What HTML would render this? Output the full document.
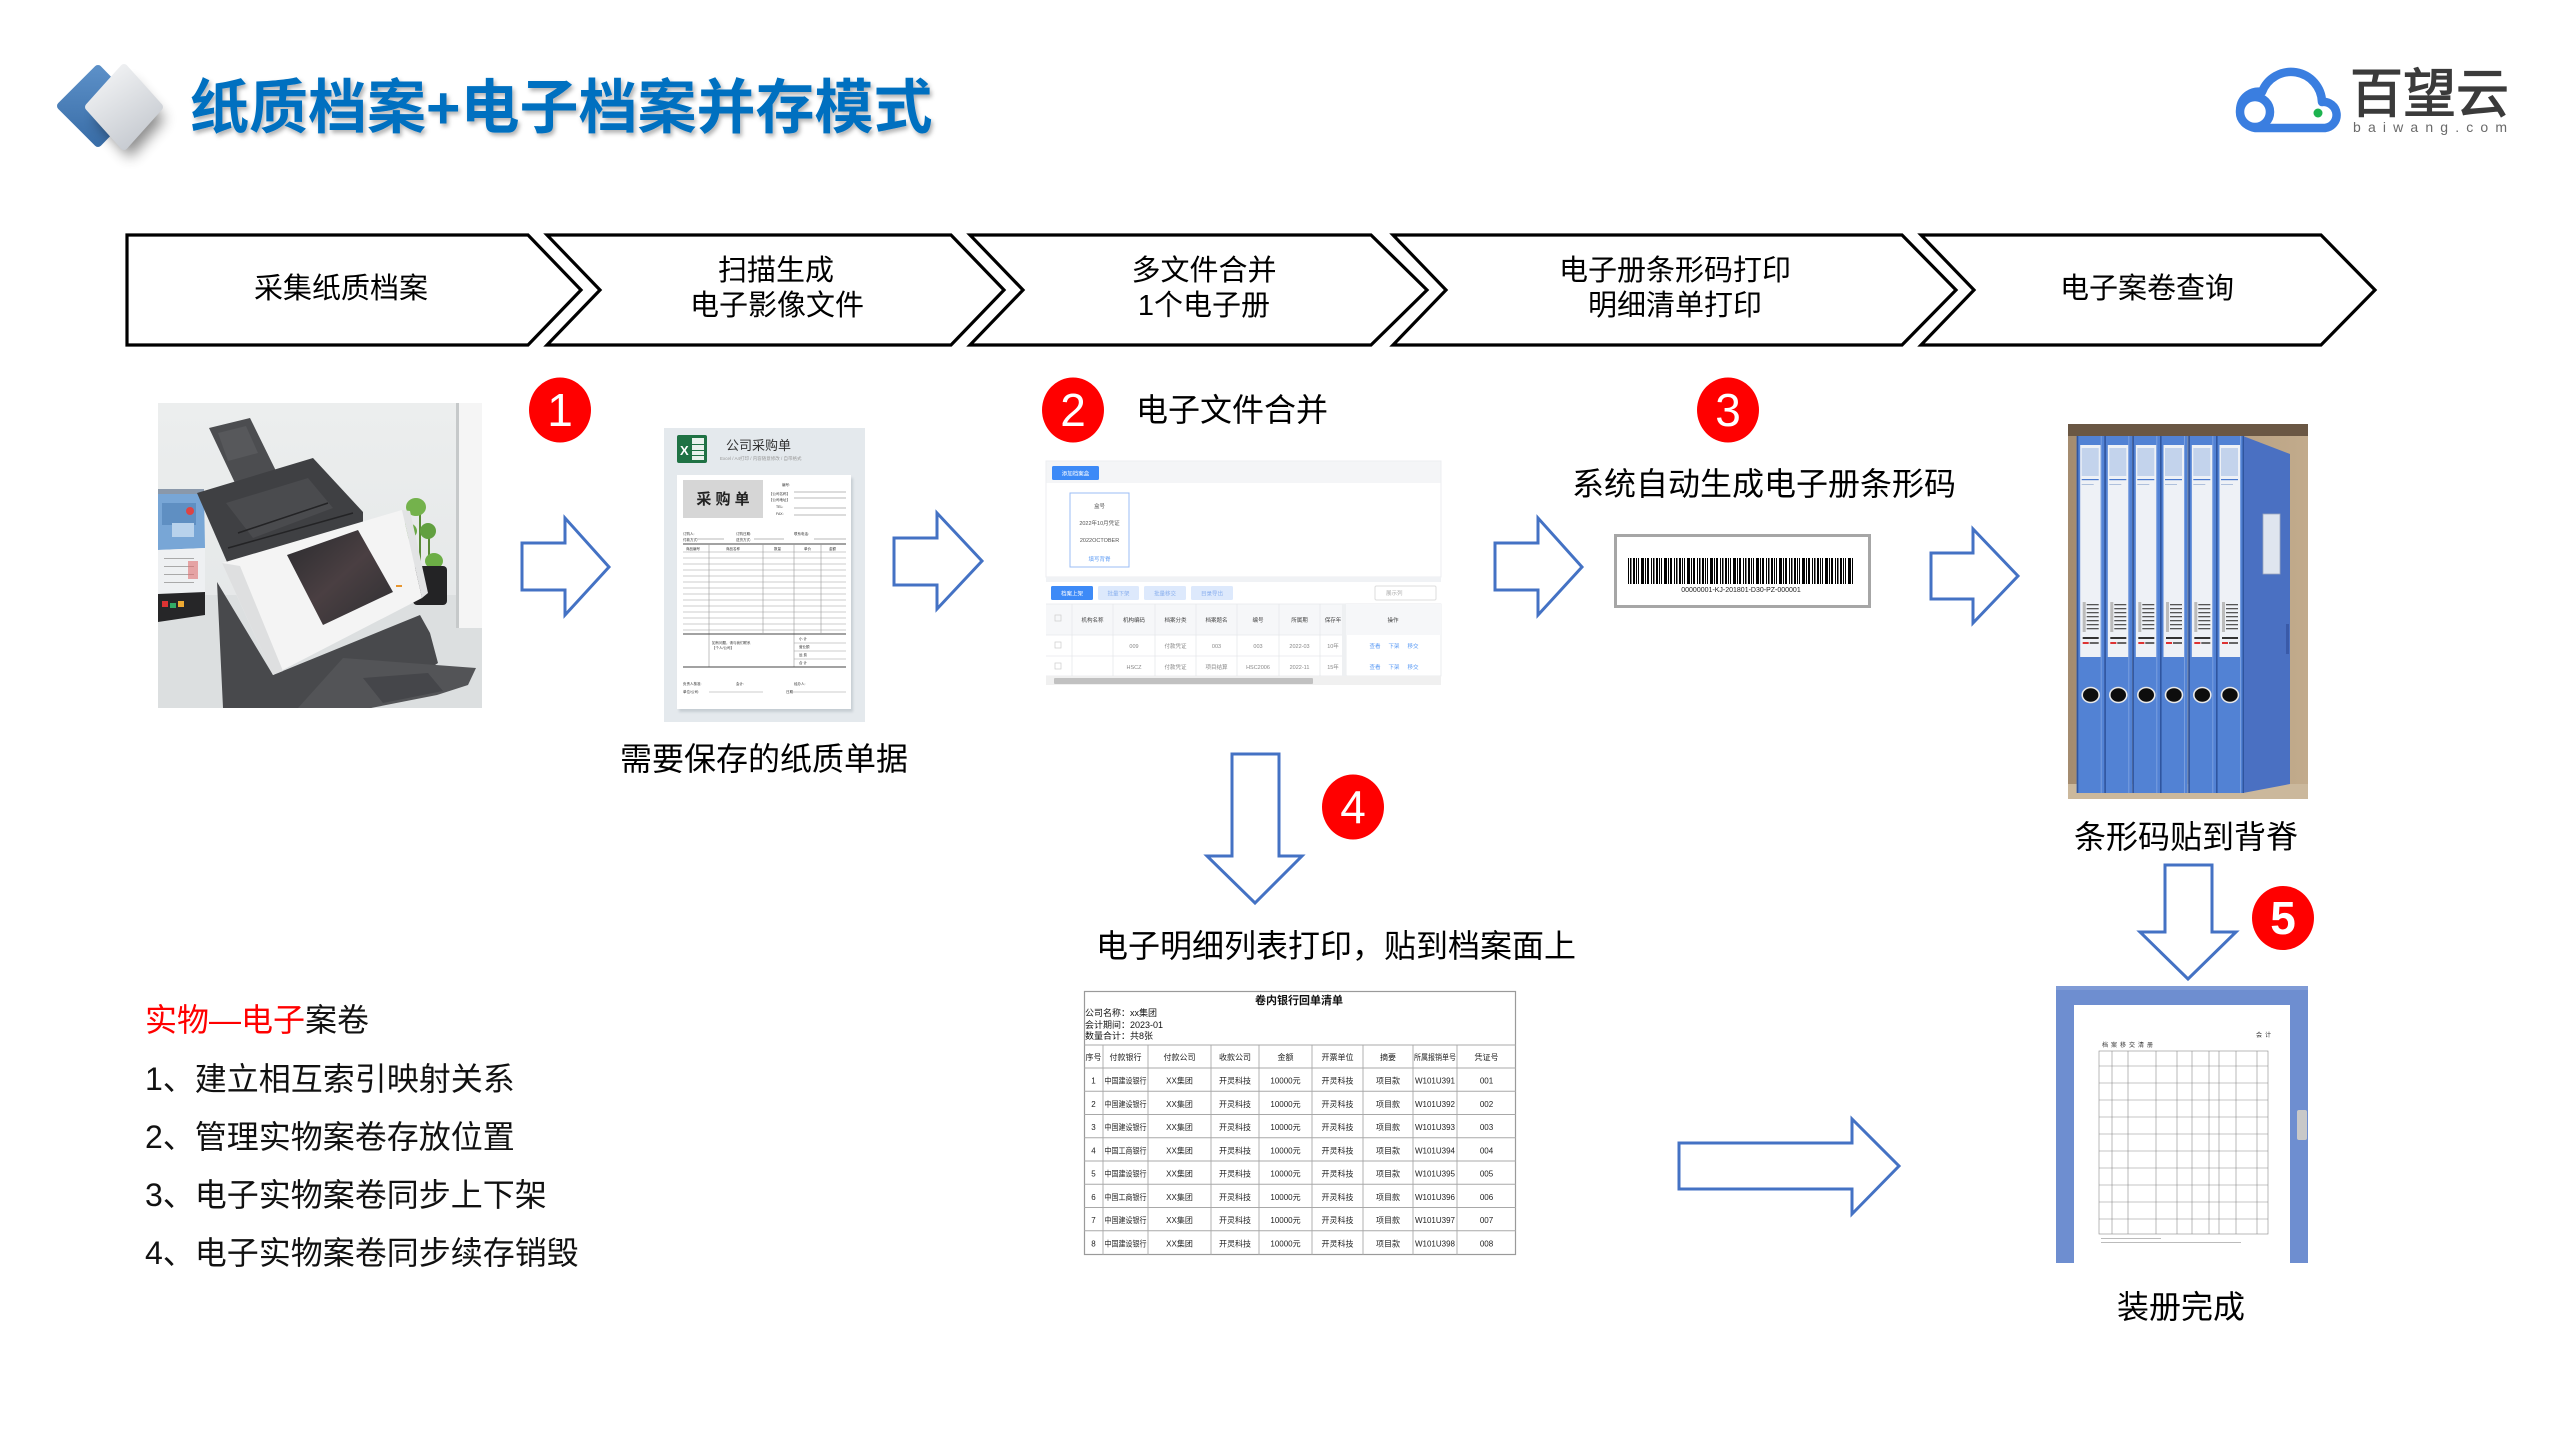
<!DOCTYPE html>
<html><head><meta charset="utf-8"><style>html,body{margin:0;padding:0;background:#fff;width:2560px;height:1440px;overflow:hidden}svg{display:block}</style></head>
<body>
<svg width="2560" height="1440" viewBox="0 0 2560 1440" xmlns="http://www.w3.org/2000/svg" font-family="'Liberation Sans','Noto Sans CJK SC',sans-serif">
<defs>
 <filter id="tsh" x="-5%" y="-30%" width="110%" height="170%"><feDropShadow dx="2" dy="3" stdDeviation="2" flood-color="#000" flood-opacity="0.3"/></filter>
 <filter id="blur8" x="-50%" y="-50%" width="200%" height="200%"><feGaussianBlur stdDeviation="7"/></filter>
 <filter id="blur1"><feGaussianBlur stdDeviation="1.2"/></filter>
 <linearGradient id="gBlue" x1="0" y1="0" x2="0" y2="1"><stop offset="0" stop-color="#5b8fc7"/><stop offset="1" stop-color="#3a6ea8"/></linearGradient>
 <linearGradient id="gGray" x1="0" y1="0" x2="0.6" y2="1"><stop offset="0" stop-color="#f6f7f8"/><stop offset="1" stop-color="#c8ccd2"/></linearGradient>
 <linearGradient id="scanbg" x1="0" y1="0" x2="0" y2="1"><stop offset="0" stop-color="#eceeee"/><stop offset="1" stop-color="#e2e5e6"/></linearGradient>
 <linearGradient id="screen" x1="0" y1="0" x2="1" y2="1"><stop offset="0" stop-color="#2a2b2e"/><stop offset="0.5" stop-color="#4a3f42"/><stop offset="1" stop-color="#2e2f32"/></linearGradient>
 <linearGradient id="wood" x1="0" y1="0" x2="1" y2="0"><stop offset="0" stop-color="#a48c70"/><stop offset="1" stop-color="#c2ab8c"/></linearGradient>
 <pattern id="bc" width="23" height="26" patternUnits="userSpaceOnUse">
  <rect x="0" y="0" width="2" height="26" fill="#000"/><rect x="3" y="0" width="1" height="26" fill="#000"/>
  <rect x="5" y="0" width="1" height="26" fill="#000"/><rect x="8" y="0" width="3" height="26" fill="#000"/>
  <rect x="12" y="0" width="1" height="26" fill="#000"/><rect x="14" y="0" width="2" height="26" fill="#000"/>
  <rect x="18" y="0" width="1" height="26" fill="#000"/><rect x="20" y="0" width="1.5" height="26" fill="#000"/>
 </pattern>
 <pattern id="sl" width="12" height="4" patternUnits="userSpaceOnUse"><rect x="0" y="0" width="12" height="1.3" fill="#555"/></pattern>
 <g id="spine">
  <rect x="0" y="12" width="27.7" height="357" fill="#5282d4"/>
  <rect x="3.5" y="21" width="20.5" height="212" fill="#eef1f6"/>
  <rect x="5" y="24" width="17" height="28" fill="#c3d3ec"/>
  <rect x="5" y="55" width="17" height="1.2" fill="#4a7ad0"/>
  <rect x="5" y="60" width="12" height="0.8" fill="#9fb3d6"/>
  <rect x="6" y="178" width="3" height="30" fill="#bbb"/>
  <rect x="10" y="180" width="12" height="26" fill="url(#sl)"/>
  <rect x="6" y="213" width="16" height="2" fill="#333"/>
  <rect x="6" y="218" width="6" height="2" fill="#d33"/>
  <rect x="13" y="218" width="9" height="2" fill="#666"/>
  <ellipse cx="14" cy="271" rx="8.5" ry="7.5" fill="#0d0d0d" stroke="#e8e8e8" stroke-width="1.6"/>
  <rect x="0" y="12" width="1.6" height="357" fill="#2f559f"/>
  <rect x="24" y="12" width="1" height="357" fill="#7aa0e0"/>
 </g>
</defs>

<!-- ===== Header logo diamonds ===== -->
<polygon points="98,69 134,106 98,143 61,106" fill="url(#gBlue)" stroke="url(#gBlue)" stroke-width="8" stroke-linejoin="round"/>
<polygon points="130,80 165,119 130,158 95,119" fill="#000" opacity="0.45" filter="url(#blur8)"/>
<polygon points="124,68 159,107 124,146 89,107" fill="url(#gGray)" stroke="url(#gGray)" stroke-width="8" stroke-linejoin="round"/>

<!-- Title -->
<text x="190" y="128" font-size="59" font-weight="bold" fill="#0070c0" filter="url(#tsh)">纸质档案+电子档案并存模式</text>

<!-- Baiwang logo -->
<path d="M2255,128 H2325 A13,13 0 0 0 2322,102 A31,31 0 0 0 2262,92 A17,17 0 0 0 2255,128 Z" fill="#fff" stroke="#3a7ee0" stroke-width="8.5" stroke-linejoin="round"/>
<circle cx="2255" cy="112" r="15" fill="#fff" stroke="#3a7ee0" stroke-width="8.5"/>
<circle cx="2318" cy="113" r="4.5" fill="#1db34f"/>
<text x="2350" y="112" font-size="53" fill="#3b3b3b" stroke="#3b3b3b" stroke-width="1.2">百望云</text>
<text x="2353" y="132" font-size="14" fill="#6a6a6a" textLength="154" lengthAdjust="spacing">baiwang.com</text>

<!-- ===== Chevrons ===== -->
<g fill="#fff" stroke="#000" stroke-width="3.2" stroke-linejoin="miter">
 <polygon points="127,235 528,235 581,290 528,345 127,345"/>
 <polygon points="547,235 951,235 1004,290 951,345 547,345 600,290"/>
 <polygon points="970,235 1371,235 1427,290 1371,345 970,345 1023,290"/>
 <polygon points="1393,235 1902,235 1956,290 1902,345 1393,345 1446,290"/>
 <polygon points="1921,235 2321,235 2375,290 2321,345 1921,345 1974,290"/>
</g>
<g font-size="29" fill="#000" text-anchor="middle">
 <text x="341" y="298">采集纸质档案</text>
 <text x="776" y="280">扫描生成</text>
 <text x="777" y="315">电子影像文件</text>
 <text x="1204" y="280">多文件合并</text>
 <text x="1204" y="315">1个电子册</text>
 <text x="1675" y="280">电子册条形码打印</text>
 <text x="1675" y="315">明细清单打印</text>
 <text x="2147" y="298">电子案卷查询</text>
</g>

<!-- ===== Scanner photo ===== -->
<g transform="translate(158,403)">
 <rect width="324" height="305" fill="url(#scanbg)"/>
 <rect x="0" y="192" width="324" height="113" fill="#dcdfe0"/>
 <rect x="300" y="0" width="24" height="225" fill="#f5f5f5"/>
 <rect x="298" y="0" width="3" height="225" fill="#c6c9ca"/>
 <!-- calendar -->
 <rect x="0" y="86" width="46" height="5" fill="#8a98aa"/>
 <polygon points="0,91 46,91 47,145 0,147" fill="#78a6d6"/>
 <rect x="4" y="100" width="34" height="22" fill="#5f8fc2"/>
 <rect x="14" y="120" width="22" height="14" fill="#b8d2ec"/>
 <circle cx="32" cy="108" r="4" fill="#d44"/>
 <polygon points="0,147 47,145 47,189 0,191" fill="#eef0f2"/>
 <g fill="#a9a9a9"><rect x="6" y="155" width="30" height="1"/><rect x="6" y="163" width="30" height="1"/><rect x="6" y="171" width="30" height="1"/><rect x="6" y="179" width="30" height="1"/></g>
 <rect x="30" y="158" width="10" height="18" fill="#e07070" opacity=".6"/>
 <polygon points="0,191 47,189 47,212 0,219" fill="#262628"/>
 <rect x="4" y="198" width="6" height="6" fill="#d33"/><rect x="12" y="200" width="6" height="5" fill="#3a6"/><rect x="20" y="198" width="6" height="6" fill="#ea3"/>
 <!-- plant -->
 <rect x="261" y="110" width="2" height="55" fill="#5a8a36"/>
 <rect x="270" y="125" width="2" height="40" fill="#5a8a36"/>
 <ellipse cx="258" cy="104" rx="10" ry="9" fill="#74b24c"/>
 <ellipse cx="250" cy="128" rx="9" ry="8" fill="#6aa845"/>
 <ellipse cx="270" cy="128" rx="8" ry="8" fill="#62a040"/>
 <ellipse cx="276" cy="158" rx="9" ry="8" fill="#6cae46"/>
 <rect x="255" y="163" width="34" height="39" rx="4" fill="#232325"/>
 <!-- lower body -->
 <polygon points="59,179 115,272 262,212 272,230 280,260 213,305 65,305" fill="#48494c"/>
 <!-- input tray extension -->
 <polygon points="51,25 92,15 119,70 77,80" fill="#4c4d50"/>
 <polygon points="60,30 88,23 100,50 70,58" fill="#57585b"/>
 <!-- main tray -->
 <polygon points="39,90 155,55 205,109 205,119 92,159 69,159" fill="#3f4043"/>
 <polygon points="68,100 150,75 175,105 95,135" fill="#4a4b4e"/>
 <line x1="80" y1="130" x2="170" y2="100" stroke="#232325" stroke-width="1.5"/>
 <line x1="70" y1="145" x2="195" y2="110" stroke="#232325" stroke-width="1.5"/>
 <!-- white unit -->
 <polygon points="64,160 244,107 264,195 115,272" fill="#f4f4f4"/>
 <polygon points="64,160 82,163 125,268 115,272" fill="#dedfe0"/>
 <polygon points="244,107 252,108 270,190 264,195" fill="#e2e3e4"/>
 <polygon points="129,152 200,127 235,189 165,222" fill="url(#screen)"/>
 <rect x="238" y="182" width="6" height="2" fill="#e8962f"/>
 <!-- output tray -->
 <polygon points="185,255 318,265 310,282 279,292 213,305 140,305" fill="#535457"/>
 <polygon points="205,275 270,270 285,288 225,300" fill="#45464a"/>
</g>

<!-- ===== Purchase form ===== -->
<g transform="translate(664,428)">
 <rect width="201" height="294" fill="#e4e9ed"/>
 <rect x="13" y="7" width="30" height="28" rx="2" fill="#1f7244"/>
 <rect x="28" y="10" width="12" height="22" fill="#e8f2ec"/>
 <rect x="28" y="16" width="12" height="1" fill="#1f7244"/><rect x="28" y="22" width="12" height="1" fill="#1f7244"/><rect x="28" y="27" width="12" height="1" fill="#1f7244"/>
 <text x="16" y="27" font-size="13" fill="#fff" font-weight="bold">X</text>
 <text x="62" y="22" font-size="13" fill="#333">公司采购单</text>
 <text x="56" y="32" font-size="4.5" fill="#999">Excel / A4打印 / 内容随意修改 / 自带格式</text>
 <rect x="15" y="50" width="174" height="234" fill="#c6cdd3" filter="url(#blur1)"/>
 <rect x="13" y="47" width="174" height="234" fill="#fff"/>
 <rect x="19" y="52" width="80" height="38" fill="#d6d6d6"/>
 <text x="59" y="76" font-size="15" font-weight="bold" text-anchor="middle" fill="#222">采 购 单</text>
 <g stroke="#777" stroke-width="0.6">
  <line x1="130" y1="64" x2="182" y2="64"/><line x1="130" y1="70" x2="182" y2="70"/>
  <line x1="130" y1="80" x2="182" y2="80"/><line x1="130" y1="87" x2="182" y2="87"/>
  <line x1="33" y1="111" x2="60" y2="111"/><line x1="90" y1="111" x2="120" y2="111"/><line x1="150" y1="111" x2="182" y2="111"/>
 </g>
 <g font-size="3.5" fill="#333"><text x="118" y="58">编号:</text><text x="105" y="67">【公司名称】</text><text x="105" y="73">【公司地址】</text><text x="112" y="80">TEL:</text><text x="112" y="87">FAX:</text>
 <text x="19" y="107">订购人:</text><text x="72" y="107">订购日期:</text><text x="130" y="107">联系电话:</text><text x="19" y="113">付款方式:</text><text x="72" y="113">送货方式:</text></g>
 <line x1="19" y1="116" x2="182" y2="116" stroke="#444" stroke-width="1"/>
 <g font-size="3.5" fill="#333"><text x="22" y="122">商品编号</text><text x="62" y="122">商品名称</text><text x="110" y="122">数量</text><text x="140" y="122">单价</text><text x="165" y="122">金额</text></g>
 <g stroke="#999" stroke-width="0.6">
  <line x1="19" y1="124" x2="182" y2="124"/><line x1="19" y1="130" x2="182" y2="130"/><line x1="19" y1="136" x2="182" y2="136"/><line x1="19" y1="142" x2="182" y2="142"/><line x1="19" y1="148" x2="182" y2="148"/><line x1="19" y1="154" x2="182" y2="154"/><line x1="19" y1="160" x2="182" y2="160"/><line x1="19" y1="166" x2="182" y2="166"/><line x1="19" y1="172" x2="182" y2="172"/><line x1="19" y1="178" x2="182" y2="178"/><line x1="19" y1="184" x2="182" y2="184"/><line x1="19" y1="190" x2="182" y2="190"/><line x1="19" y1="196" x2="182" y2="196"/><line x1="19" y1="202" x2="182" y2="202"/>
  <line x1="45" y1="116" x2="45" y2="239"/><line x1="99" y1="116" x2="99" y2="205"/><line x1="130" y1="116" x2="130" y2="239"/><line x1="157" y1="116" x2="157" y2="205"/>
  <line x1="130" y1="215" x2="182" y2="215"/><line x1="130" y1="223" x2="182" y2="223"/><line x1="130" y1="231" x2="182" y2="231"/>
  <line x1="45" y1="264" x2="99" y2="264"/><line x1="130" y1="264" x2="182" y2="264"/>
 </g>
 <line x1="19" y1="206" x2="182" y2="206" stroke="#444" stroke-width="1"/>
 <line x1="19" y1="239" x2="182" y2="239" stroke="#444" stroke-width="1"/>
 <g font-size="3.5" fill="#333"><text x="48" y="216">如有问题，请与我们联系</text><text x="48" y="221">【个人/公司】</text><text x="135" y="212">小 计</text><text x="135" y="220">营业额</text><text x="135" y="228">运 费</text><text x="135" y="236">合 计</text>
 <text x="19" y="257">负责人核准:</text><text x="72" y="257">会计:</text><text x="130" y="257">经办人:</text><text x="19" y="265">单位/公司:</text><text x="122" y="265">日期:</text></g>
</g>

<!-- ===== Software screenshot ===== -->
<g transform="translate(1046,461)">
 <rect width="395" height="228" fill="#fff"/>
 <rect width="395" height="22" fill="#f4f5f7"/>
 <rect x="0" y="0" width="395" height="116" fill="none" stroke="#eceef1"/>
 <rect x="6" y="5" width="47" height="14" rx="1.5" fill="#3d8af7"/>
 <text x="29.5" y="14.5" font-size="5.5" fill="#fff" text-anchor="middle">添加档案盒</text>
 <rect x="24" y="32" width="59" height="74" fill="#fff" stroke="#9bbdf5" stroke-width="1"/>
 <g font-size="5.5" fill="#555" text-anchor="middle"><text x="53.5" y="47">盒号</text><text x="53.5" y="64">2022年10月凭证</text><text x="53.5" y="81">2022OCTOBER</text><text x="53.5" y="100" fill="#5a9af5">填写背脊</text></g>
 <rect x="0" y="116" width="395" height="5" fill="#f0f2f5"/>
 <rect x="5" y="125" width="42" height="14" rx="1.5" fill="#3d8af7"/>
 <rect x="52" y="125" width="41" height="14" rx="1.5" fill="#dde9fc"/>
 <rect x="98" y="125" width="42" height="14" rx="1.5" fill="#dde9fc"/>
 <rect x="145" y="125" width="42" height="14" rx="1.5" fill="#dde9fc"/>
 <rect x="329" y="125" width="61" height="14" rx="1.5" fill="#fff" stroke="#ddd"/>
 <g font-size="5.5" text-anchor="middle"><text x="26" y="134.5" fill="#fff">档案上架</text><text x="72.5" y="134.5" fill="#8ab0ee">批量下架</text><text x="119" y="134.5" fill="#8ab0ee">批量移交</text><text x="166" y="134.5" fill="#8ab0ee">目录导出</text><text x="340" y="134" fill="#aaa" text-anchor="start">展示列</text></g>
 <rect x="0" y="143" width="395" height="31" fill="#f6f7f9"/>
 <g stroke="#e6e8eb" stroke-width="0.8">
  <line x1="0" y1="143" x2="395" y2="143"/><line x1="0" y1="174" x2="395" y2="174"/><line x1="0" y1="195" x2="395" y2="195"/><line x1="0" y1="215" x2="395" y2="215"/>
  <line x1="26" y1="143" x2="26" y2="215"/><line x1="67" y1="143" x2="67" y2="215"/><line x1="109" y1="143" x2="109" y2="215"/><line x1="150" y1="143" x2="150" y2="215"/><line x1="191" y1="143" x2="191" y2="215"/><line x1="233" y1="143" x2="233" y2="215"/><line x1="274" y1="143" x2="274" y2="215"/>
 </g>
 <rect x="300" y="143" width="95" height="72" fill="#fff" stroke="#e6e8eb" stroke-width="0.8"/>
 <rect x="296" y="143" width="4" height="72" fill="#eef0f2"/>
 <rect x="300" y="143" width="95" height="31" fill="#f6f7f9"/>
 <g fill="none" stroke="#ccc" stroke-width="0.7"><rect x="9" y="154" width="6" height="6"/><rect x="9" y="181" width="6" height="6"/><rect x="9" y="202" width="6" height="6"/></g>
 <g font-size="5.5" fill="#444" text-anchor="middle"><text x="46.5" y="161">机构名称</text><text x="88" y="161">机构编码</text><text x="129.5" y="161">档案分类</text><text x="170.5" y="161">档案题名</text><text x="212" y="161">编号</text><text x="253.5" y="161">所属期</text><text x="287" y="161">保存年</text><text x="347" y="161">操作</text></g>
 <g font-size="5.5" fill="#888" text-anchor="middle"><text x="88" y="187">009</text><text x="129.5" y="187">付款凭证</text><text x="170.5" y="187">003</text><text x="212" y="187">003</text><text x="253.5" y="187">2022-03</text><text x="287" y="187">10年</text>
 <text x="88" y="208">HSCZ</text><text x="129.5" y="208">付款凭证</text><text x="170.5" y="208">项目结算</text><text x="212" y="208">HSC2006</text><text x="253.5" y="208">2022-11</text><text x="287" y="208">15年</text></g>
 <g font-size="5.5" fill="#5a9af5" text-anchor="middle"><text x="329" y="187">查看</text><text x="348" y="187">下架</text><text x="367" y="187">移交</text><text x="329" y="208">查看</text><text x="348" y="208">下架</text><text x="367" y="208">移交</text></g>
 <rect x="0" y="215" width="395" height="9" fill="#f0f0f0"/>
 <rect x="8" y="217" width="259" height="6" rx="1" fill="#c1c1c1"/>
</g>

<!-- ===== Barcode ===== -->
<rect x="1615.5" y="535.5" width="254" height="71" fill="#fff" stroke="#a6a6a6" stroke-width="3"/>
<rect x="1628" y="558" width="226" height="26" fill="url(#bc)"/>
<text x="1741" y="592" font-size="7" fill="#222" text-anchor="middle">00000001-KJ-201801-D30-PZ-000001</text>

<!-- ===== Binders photo ===== -->
<g transform="translate(2068,424)">
 <rect width="240" height="375" fill="url(#wood)"/>
 <rect width="240" height="12" fill="#6a5744"/>
 <rect x="0" y="360" width="240" height="15" fill="#cbb89c"/>
 <polygon points="175,12 222,30 222,360 175,369" fill="#4a70c2"/>
 <rect x="195" y="90" width="17" height="60" fill="#dfe5ef" stroke="#9aa6bf" stroke-width="0.8"/>
 <rect x="218" y="200" width="3" height="30" fill="#3a5aa8"/>
 <use href="#spine" x="8.7"/>
 <use href="#spine" x="36.3"/>
 <use href="#spine" x="64.3"/>
 <use href="#spine" x="92"/>
 <use href="#spine" x="120.3"/>
 <use href="#spine" x="148"/>
 <rect x="174.5" y="12" width="1.5" height="357" fill="#2f559f"/>
</g>

<!-- ===== Bound document ===== -->
<g transform="translate(2056,986)">
 <rect width="252" height="277" fill="#6e8ed0"/>
 <rect x="0" y="0" width="252" height="4" fill="#7f9bd6"/>
 <rect x="18" y="19" width="216" height="258" fill="#fff"/>
 <text x="46" y="61" font-size="6" fill="#333" letter-spacing="3">档案移交清册</text>
 <text x="200" y="51" font-size="6" fill="#333" letter-spacing="3">会计</text>
 <g stroke="#8a8a8a" stroke-width="0.6" fill="none">
  <rect x="43" y="65" width="169" height="183"/>
  <line x1="43" y1="80" x2="212" y2="80"/><line x1="43" y1="97" x2="212" y2="97"/><line x1="43" y1="114" x2="212" y2="114"/><line x1="43" y1="131" x2="212" y2="131"/><line x1="43" y1="148" x2="212" y2="148"/><line x1="43" y1="165" x2="212" y2="165"/><line x1="43" y1="182" x2="212" y2="182"/><line x1="43" y1="199" x2="212" y2="199"/><line x1="43" y1="216" x2="212" y2="216"/><line x1="43" y1="233" x2="212" y2="233"/>
  <line x1="56" y1="65" x2="56" y2="248"/><line x1="72" y1="65" x2="72" y2="248"/><line x1="100" y1="65" x2="100" y2="248"/><line x1="121" y1="65" x2="121" y2="248"/><line x1="136" y1="65" x2="136" y2="248"/><line x1="153" y1="65" x2="153" y2="248"/><line x1="163" y1="65" x2="163" y2="248"/><line x1="180" y1="65" x2="180" y2="248"/><line x1="201" y1="65" x2="201" y2="248"/>
 </g>
 <rect x="45" y="252" width="60" height="1" fill="#bbb"/><rect x="45" y="256" width="140" height="1" fill="#bbb"/>
 <rect x="241" y="124" width="10" height="30" rx="2" fill="#c8c8c8"/>
</g>

<!-- ===== Detail table ===== -->
<g transform="translate(1084,991)">
 <rect x="0.5" y="0.5" width="431" height="263" fill="#fff" stroke="#9a9a9a" stroke-width="1.2"/>
 <text x="215" y="13" font-size="11" font-weight="bold" text-anchor="middle" fill="#111">卷内银行回单清单</text>
 <g font-size="9" fill="#111"><text x="1" y="25">公司名称：xx集团</text><text x="1" y="37">会计期间：2023-01</text><text x="1" y="48">数量合计：共8张</text></g>
 <g stroke="#a8a8a8" stroke-width="0.9">
  <line x1="0" y1="54" x2="432" y2="54"/><line x1="0" y1="77" x2="432" y2="77"/><line x1="0" y1="100.25" x2="432" y2="100.25"/><line x1="0" y1="123.5" x2="432" y2="123.5"/><line x1="0" y1="146.75" x2="432" y2="146.75"/><line x1="0" y1="170" x2="432" y2="170"/><line x1="0" y1="193.25" x2="432" y2="193.25"/><line x1="0" y1="216.5" x2="432" y2="216.5"/><line x1="0" y1="239.75" x2="432" y2="239.75"/>
  <line x1="19" y1="54" x2="19" y2="264"/><line x1="64" y1="54" x2="64" y2="264"/><line x1="127" y1="54" x2="127" y2="264"/><line x1="175" y1="54" x2="175" y2="264"/><line x1="228" y1="54" x2="228" y2="264"/><line x1="279" y1="54" x2="279" y2="264"/><line x1="329" y1="54" x2="329" y2="264"/><line x1="373" y1="54" x2="373" y2="264"/>
 </g>
 <g font-size="8" fill="#222" text-anchor="middle">
  <text x="9.5" y="69">序号</text><text x="41.5" y="69">付款银行</text><text x="95.5" y="69">付款公司</text><text x="151" y="69">收款公司</text><text x="201.5" y="69">金额</text><text x="253.5" y="69">开票单位</text><text x="304" y="69">摘要</text><text x="351" y="69" textLength="42" lengthAdjust="spacingAndGlyphs">所属报销单号</text><text x="402.5" y="69">凭证号</text>
 </g>
 <g font-size="8" fill="#222" text-anchor="middle">
  <text x="9.5" y="92.5">1</text><text x="41.5" y="92.5" textLength="42" lengthAdjust="spacingAndGlyphs">中国建设银行</text><text x="95.5" y="92.5">XX集团</text><text x="151" y="92.5">开灵科技</text><text x="201.5" y="92.5">10000元</text><text x="253.5" y="92.5">开灵科技</text><text x="304" y="92.5">项目款</text><text x="351" y="92.5">W101U391</text><text x="402.5" y="92.5">001</text>
  <text x="9.5" y="115.75">2</text><text x="41.5" y="115.75" textLength="42" lengthAdjust="spacingAndGlyphs">中国建设银行</text><text x="95.5" y="115.75">XX集团</text><text x="151" y="115.75">开灵科技</text><text x="201.5" y="115.75">10000元</text><text x="253.5" y="115.75">开灵科技</text><text x="304" y="115.75">项目款</text><text x="351" y="115.75">W101U392</text><text x="402.5" y="115.75">002</text>
  <text x="9.5" y="139">3</text><text x="41.5" y="139" textLength="42" lengthAdjust="spacingAndGlyphs">中国建设银行</text><text x="95.5" y="139">XX集团</text><text x="151" y="139">开灵科技</text><text x="201.5" y="139">10000元</text><text x="253.5" y="139">开灵科技</text><text x="304" y="139">项目款</text><text x="351" y="139">W101U393</text><text x="402.5" y="139">003</text>
  <text x="9.5" y="162.25">4</text><text x="41.5" y="162.25" textLength="42" lengthAdjust="spacingAndGlyphs">中国工商银行</text><text x="95.5" y="162.25">XX集团</text><text x="151" y="162.25">开灵科技</text><text x="201.5" y="162.25">10000元</text><text x="253.5" y="162.25">开灵科技</text><text x="304" y="162.25">项目款</text><text x="351" y="162.25">W101U394</text><text x="402.5" y="162.25">004</text>
  <text x="9.5" y="185.5">5</text><text x="41.5" y="185.5" textLength="42" lengthAdjust="spacingAndGlyphs">中国建设银行</text><text x="95.5" y="185.5">XX集团</text><text x="151" y="185.5">开灵科技</text><text x="201.5" y="185.5">10000元</text><text x="253.5" y="185.5">开灵科技</text><text x="304" y="185.5">项目款</text><text x="351" y="185.5">W101U395</text><text x="402.5" y="185.5">005</text>
  <text x="9.5" y="208.75">6</text><text x="41.5" y="208.75" textLength="42" lengthAdjust="spacingAndGlyphs">中国工商银行</text><text x="95.5" y="208.75">XX集团</text><text x="151" y="208.75">开灵科技</text><text x="201.5" y="208.75">10000元</text><text x="253.5" y="208.75">开灵科技</text><text x="304" y="208.75">项目款</text><text x="351" y="208.75">W101U396</text><text x="402.5" y="208.75">006</text>
  <text x="9.5" y="232">7</text><text x="41.5" y="232" textLength="42" lengthAdjust="spacingAndGlyphs">中国建设银行</text><text x="95.5" y="232">XX集团</text><text x="151" y="232">开灵科技</text><text x="201.5" y="232">10000元</text><text x="253.5" y="232">开灵科技</text><text x="304" y="232">项目款</text><text x="351" y="232">W101U397</text><text x="402.5" y="232">007</text>
  <text x="9.5" y="255.25">8</text><text x="41.5" y="255.25" textLength="42" lengthAdjust="spacingAndGlyphs">中国建设银行</text><text x="95.5" y="255.25">XX集团</text><text x="151" y="255.25">开灵科技</text><text x="201.5" y="255.25">10000元</text><text x="253.5" y="255.25">开灵科技</text><text x="304" y="255.25">项目款</text><text x="351" y="255.25">W101U398</text><text x="402.5" y="255.25">008</text>
 </g>
</g>

<!-- ===== Hollow arrows ===== -->
<g fill="#fff" stroke="#4472c4" stroke-width="3" stroke-linejoin="miter">
 <path d="M522,543 H565 V518 L609,567 L565,615 V590 H522 Z"/>
 <path d="M894,538 H937 V513 L982,561 L937,609 V585 H894 Z"/>
 <path d="M1495,543 H1538 V518 L1582,567 L1538,615 V590 H1495 Z"/>
 <path d="M1931,553 H1973 V529 L2018,576 L1973,623 V599 H1931 Z"/>
 <path d="M1679,1143 H1852 V1119 L1899,1166 L1852,1214 V1189 H1679 Z"/>
 <path d="M1232,754 H1279 V856 H1302 L1255,903 L1207,856 H1232 Z"/>
 <path d="M2165,865 H2212 V932 H2236 L2188,979 L2140,932 H2165 Z"/>
</g>

<!-- ===== Red number circles ===== -->
<g fill="#ff0000">
 <ellipse cx="560" cy="410" rx="31" ry="32.5"/>
 <ellipse cx="1073" cy="410" rx="31" ry="32.5"/>
 <ellipse cx="1728" cy="410" rx="31" ry="32.5"/>
 <ellipse cx="1353" cy="807" rx="31" ry="32.5"/>
 <ellipse cx="2283" cy="918" rx="31" ry="32"/>
</g>
<g fill="#fff" font-size="46" text-anchor="middle">
 <text x="560" y="426">1</text>
 <text x="1073" y="426">2</text>
 <text x="1728" y="426">3</text>
 <text x="1353" y="823">4</text>
 <text x="2283" y="934" font-weight="bold">5</text>
</g>

<!-- ===== Labels ===== -->
<g font-size="32" fill="#000">
 <text x="764" y="770" text-anchor="middle">需要保存的纸质单据</text>
 <text x="1136" y="421">电子文件合并</text>
 <text x="1572" y="495">系统自动生成电子册条形码</text>
 <text x="2186" y="848" text-anchor="middle">条形码贴到背脊</text>
 <text x="1096" y="957">电子明细列表打印，贴到档案面上</text>
 <text x="2181" y="1318" text-anchor="middle">装册完成</text>
</g>

<!-- ===== Left notes ===== -->
<g font-size="32" fill="#111">
 <text x="145" y="1031"><tspan fill="#ff0000">实物—电子</tspan>案卷</text>
 <text x="145" y="1090">1、建立相互索引映射关系</text>
 <text x="145" y="1148">2、管理实物案卷存放位置</text>
 <text x="145" y="1206">3、电子实物案卷同步上下架</text>
 <text x="145" y="1264">4、电子实物案卷同步续存销毁</text>
</g>
</svg>
</body></html>
